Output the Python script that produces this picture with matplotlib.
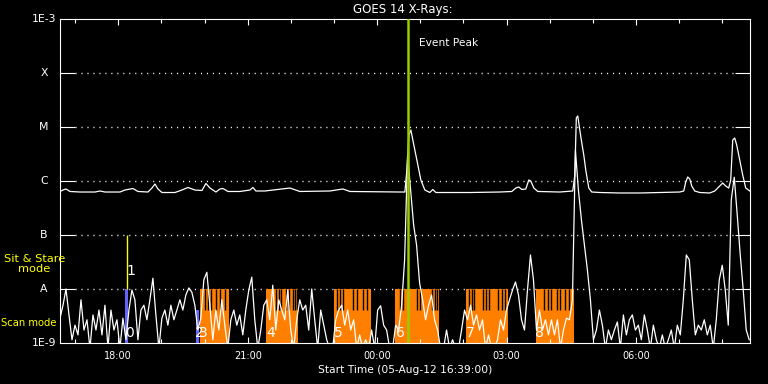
#!/usr/bin/env python

import numpy as np
import matplotlib
matplotlib.use('Agg')
import matplotlib.pyplot as plt
from matplotlib.ticker import NullLocator

# time axis in hours since 05-Aug-12 00:00
t_start = 16.65
t_end = 32.64

# GOES 1-8 A channel (hours, log10 W/m^2)
long_t = [16.650, 16.719, 16.789, 16.882, 17.113, 17.461, 17.577, 17.692, 18.040, 18.156,
          18.341, 18.457, 18.688, 18.781, 18.851, 18.920, 19.013, 19.314, 19.476, 19.615,
          19.777, 19.939, 20.032, 20.125, 20.264, 20.356, 20.426, 20.542, 20.820, 21.051,
          21.121, 21.190, 21.399, 21.978, 22.209, 22.904, 23.206, 23.368, 24.526, 24.642,
          24.688, 24.734, 24.781, 24.827, 24.873, 24.943, 25.012, 25.105, 25.221, 25.290,
          25.360, 26.147, 26.842, 27.120, 27.213, 27.282, 27.352, 27.444, 27.514, 27.560,
          27.630, 27.723, 28.232, 28.533, 28.580, 28.615, 28.649, 28.696, 28.742, 28.788,
          28.834, 28.904, 28.973, 29.159, 29.622, 30.085, 30.549, 31.012, 31.105, 31.151,
          31.197, 31.244, 31.290, 31.359, 31.475, 31.707, 31.823, 31.938, 32.008, 32.077,
          32.147, 32.193, 32.240, 32.286, 32.332, 32.402, 32.471, 32.541, 32.634]
long_log = [-6.194, -6.167, -6.148, -6.194, -6.204, -6.204, -6.185, -6.204, -6.204, -6.167,
            -6.139, -6.194, -6.204, -6.130, -6.056, -6.148, -6.213, -6.213, -6.167, -6.120,
            -6.167, -6.176, -6.046, -6.130, -6.204, -6.148, -6.139, -6.194, -6.194, -6.167,
            -6.120, -6.185, -6.185, -6.130, -6.194, -6.185, -6.148, -6.194, -6.204, -6.204,
            -5.796, -5.148, -5.056, -5.241, -5.426, -5.704, -5.981, -6.167, -6.213, -6.157,
            -6.213, -6.213, -6.204, -6.194, -6.130, -6.111, -6.157, -6.148, -5.981, -6.000,
            -6.130, -6.194, -6.204, -6.185, -5.889, -4.833, -4.796, -5.056, -5.296, -5.519,
            -5.796, -6.130, -6.204, -6.213, -6.222, -6.222, -6.213, -6.204, -6.185, -6.019,
            -5.926, -5.963, -6.093, -6.185, -6.213, -6.222, -6.185, -6.093, -6.037, -6.093,
            -6.130, -5.981, -5.241, -5.204, -5.333, -5.611, -5.889, -6.130, -6.185]

# GOES 0.5-4 A channel, one sample every 250 s from the start (log10 W/m^2)
short_log = [-8.54, -8.30, -8.00, -8.48, -8.94, -8.67, -8.85, -8.20, -8.76, -8.57,
             -9.10, -8.48, -8.76, -8.39, -8.85, -8.30, -9.10, -8.39, -8.76, -8.57,
             -9.10, -8.54, -8.94, -8.39, -8.02, -8.20, -8.94, -8.39, -8.30, -8.57,
             -8.20, -7.80, -8.48, -9.10, -8.54, -8.39, -8.67, -8.30, -8.57, -8.39,
             -8.20, -8.39, -8.11, -7.98, -8.06, -8.30, -8.76, -8.54, -7.83, -7.69,
             -8.30, -8.94, -8.39, -8.76, -8.20, -8.67, -9.10, -8.57, -8.39, -8.67,
             -8.48, -8.85, -8.39, -8.02, -7.78, -8.57, -9.10,
             -8.76, -8.30, -8.20, -8.57, -7.93, -8.76, -8.20, -8.39, -8.57, -8.02,
             -8.76, -9.10, -8.57, -8.20, -8.39, -8.30, -8.76, -8.00, -8.57, -9.10,
             -8.39, -8.67, -8.94, -9.10, -9.10, -8.57, -8.39, -8.30, -8.67, -8.39,
             -8.76, -8.57, -9.10, -8.85, -9.10, -8.94, -9.10, -8.76, -9.10, -8.39,
             -8.31, -8.67, -8.76, -9.10, -9.10, -8.67, -8.76, -8.30, -7.46, -5.52,
             -6.17, -6.81, -7.19, -7.89, -8.20, -8.57, -8.30, -8.11, -8.57, -8.76,
             -9.10, -9.10, -8.76, -9.10, -8.94, -9.10, -9.10, -8.76, -8.39, -8.57,
             -8.30, -8.67, -8.48, -8.76, -8.57, -9.10, -8.85, -9.10, -9.10, -8.94,
             -8.57, -8.76, -8.39, -8.20, -8.02, -7.87, -8.11,
             -8.57, -8.76, -8.02, -7.37, -7.83, -8.76, -8.39, -8.76, -8.57, -8.85,
             -8.57, -8.85, -8.57, -9.10, -8.76, -8.54, -8.57, -8.20, -5.43, -6.17,
             -6.72, -7.19, -7.65, -8.20, -8.94, -8.76, -8.39, -8.67, -9.10, -8.76,
             -8.94, -8.76, -8.61, -9.10, -8.48, -8.85, -8.57, -8.48, -8.76, -8.67,
             -8.94, -8.48, -8.76, -9.10, -8.67, -8.94, -9.10, -8.85, -9.10, -8.94,
             -8.76, -9.10, -8.67, -8.85, -8.20, -7.37, -7.46, -8.20, -8.85, -8.67,
             -8.76, -8.57, -8.85, -8.67, -9.10, -8.57, -7.83, -7.56, -8.02, -8.67,
             -6.35, -5.93, -6.63, -7.37, -8.02, -8.76, -8.94]
short_step = 250 / 3600.

# observation blocks (hours)
scan_blocks = [(19.893, 20.572), (21.422, 22.170), (22.997, 23.847),
               (24.410, 25.436), (26.055, 27.035), (27.676, 28.557)]
scan_gaps = [20.009, 20.078, 20.148, 20.264, 20.356, 20.472,
             21.653, 21.723, 21.769, 21.885, 21.955, 22.048, 22.094, 22.140,
             23.067, 23.136, 23.206, 23.437, 23.530, 23.669, 23.761,
             24.526, 24.595, 24.920, 24.989, 25.267, 25.337, 25.383,
             26.124, 26.194, 26.240, 26.448, 26.518, 26.588, 26.796, 26.889, 26.958,
             27.862, 27.954, 28.024, 28.163, 28.232, 28.348, 28.441]
blue_blocks = [(18.156, 18.218, -8.0), (19.800, 19.877, -8.389)]
sit_stare_t = 18.202
obs_labels = [(18.27, -8.81, '0'), (18.29, -7.67, '1'), (19.89, -8.81, '2'),
              (19.97, -8.81, '3'), (21.54, -8.81, '4'), (23.11, -8.81, '5'),
              (24.53, -8.81, '6'), (26.15, -8.81, '7'), (27.77, -8.81, '8')]
event_peak = 24.718

levels = [-8, -7, -6, -5, -4]
level_names = ['A', 'B', 'C', 'M', 'X']
scan_level = -8.389

hour_ticks = [18, 21, 24, 27, 30]
hour_labels = ['18:00', '21:00', '00:00', '03:00', '06:00']

orange = '#ff8000'
blue = '#6464ff'

fig = plt.figure(figsize=(7.68, 3.84), dpi=100, facecolor='black')
ax = fig.add_axes([60/768., 41/384., 690/768., 324/384.])
ax.set_facecolor('black')
ax.set_yscale('log')
ax.set_xlim(t_start, t_end)
ax.set_ylim(1e-9, 1e-3)

for s in ax.spines.values():
	s.set_color('white')
	s.set_linewidth(0.8)

# dotted class levels
ax.hlines([10.0**l for l in levels], 15/690., 676/690., transform=ax.get_yaxis_transform(),
          colors='white', linestyles=(0, (0.8, 3.5)), linewidth=1.0, zorder=0.5)

# scan mode blocks
for (a, b) in scan_blocks:
	ax.bar(a, 1e-8 - 1e-9, width=b - a, bottom=1e-9, align='edge', color=orange, linewidth=0, zorder=1)
ax.vlines(scan_gaps, 10**scan_level, 1e-8, colors='black', linewidth=1.0, zorder=1.2)
for (a, b, top) in blue_blocks:
	ax.bar(a, 10**top - 1e-9, width=b - a, bottom=1e-9, align='edge', color=blue, linewidth=0, zorder=1)
ax.vlines([sit_stare_t], 1e-8, 1e-7, colors='yellow', linewidth=1.0, zorder=1.3)

# goes curves
ax.plot(long_t, 10**np.array(long_log), color='white', lw=0.9, zorder=2)
t_short = t_start + np.arange(len(short_log)) * short_step
ax.plot(t_short, 10**np.array(short_log), color='white', lw=0.9, zorder=2)

for (t, l, txt) in obs_labels:
	ax.text(t, 10**l, txt, color='white', fontsize=10, ha='center', va='center', zorder=2.5)

ax.axvline(event_peak, color='#99cc00', lw=1.8, zorder=3)
ax.text(event_peak + 0.25, 10**-3.444, 'Event Peak', color='white', fontsize=7.7, va='center')

# ticks
ax.set_xticks(hour_ticks)
ax.set_xticklabels(hour_labels)
ax.set_xticks(range(17, 33), minor=True)
ax.tick_params(axis='x', which='major', direction='in', length=4.5, width=0.8, top=True,
               bottom=True, colors='white', labelsize=7, pad=5.5)
ax.tick_params(axis='x', which='minor', direction='in', length=3, width=0.8, top=True,
               bottom=True, colors='white')
ax.set_yticks([10.0**l for l in levels])
ax.yaxis.set_minor_locator(NullLocator())
ax.tick_params(axis='y', which='major', direction='in', length=10.5, width=0.8, left=True,
               right=True, colors='white', labelleft=False)

ytr = ax.get_yaxis_transform()
for l, n in zip(levels + [-3, -9], level_names + ['1E-3', '1E-9']):
	ax.text(-0.0232, 10.0**l, n, transform=ytr, color='white', fontsize=7.8,
	        ha='center', va='center', clip_on=False)
ax.text(-0.037, 10**-7.54, 'Sit & Stare\nmode', transform=ytr, color='yellow', fontsize=8.2,
        ha='center', va='center', linespacing=1.0, clip_on=False)
ax.text(-0.0457, 10**-8.63, 'Scan mode', transform=ytr, color='yellow', fontsize=7.2,
        ha='center', va='center', clip_on=False)

ax.set_xlabel('Start Time (05-Aug-12 16:39:00)', color='white', fontsize=7.7, labelpad=3)
fig.text(403/768., 1 - 10/384., 'GOES 14 X-Rays:', color='white', fontsize=8.5,
         ha='center', va='center')

fig.savefig('out.png', dpi=100, facecolor='black')
